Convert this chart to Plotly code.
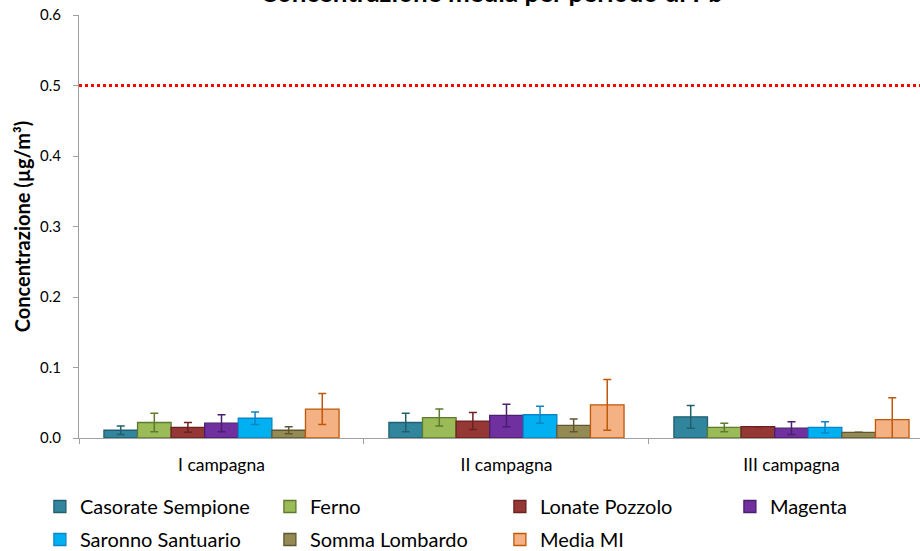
import plotly.graph_objects as go

categories = ["I campagna", "II campagna", "III campagna"]
series_names = ["Casorate Sempione", "Ferno", "Lonate Pozzolo", "Magenta",
                "Saronno Santuario", "Somma Lombardo", "Media MI"]
values = {
    "Casorate Sempione": [0.011, 0.022, 0.030],
    "Ferno":             [0.022, 0.029, 0.015],
    "Lonate Pozzolo":    [0.015, 0.024, 0.016],
    "Magenta":           [0.021, 0.032, 0.014],
    "Saronno Santuario": [0.028, 0.033, 0.015],
    "Somma Lombardo":    [0.011, 0.018, 0.008],
    "Media MI":          [0.041, 0.047, 0.026],
}
errors = {
    "Casorate Sempione": [0.006, 0.013, 0.016],
    "Ferno":             [0.013, 0.012, 0.006],
    "Lonate Pozzolo":    [0.007, 0.012, 0.0],
    "Magenta":           [0.012, 0.016, 0.009],
    "Saronno Santuario": [0.009, 0.012, 0.008],
    "Somma Lombardo":    [0.005, 0.009, 0.0],
    "Media MI":          [0.022, 0.036, 0.031],
}
limit_value = 0.5
y_ticks = [0.0, 0.1, 0.2, 0.3, 0.4, 0.5, 0.6]
y_tick_labels = ["0.0", "0.1", "0.2", "0.3", "0.4", "0.5", "0.6"]

fill_colors = ["#31859C", "#9BBB59", "#953735", "#7030A0", "#00B0F0", "#948A54", "#F4B183"]
edge_colors = ["#215F70", "#5E7A2C", "#6B2220", "#4A1F6E", "#0A86C8", "#5E5732", "#C0580A"]
legend_rows = ["legend", "legend", "legend", "legend", "legend2", "legend2", "legend2"]

FONT = "Lato"

fig = go.Figure()
for name, fc, ec, lg in zip(series_names, fill_colors, edge_colors, legend_rows):
    fig.add_trace(go.Bar(
        name=name, x=categories, y=values[name], legend=lg,
        marker=dict(color=fc, line=dict(color=ec, width=1.3)),
        error_y=dict(type="data", array=errors[name], visible=True,
                     color=ec, thickness=1.5, width=4),
    ))

fig.add_shape(type="line", xref="paper", x0=0, x1=1, yref="y",
              y0=limit_value, y1=limit_value,
              line=dict(color="#FF0000", width=3, dash="dot"))

fig.add_annotation(text="<b>Concentrazione media per periodo di Pb</b>",
                   xref="paper", yref="paper", x=0.4905, y=1.0, yshift=23,
                   xanchor="center", yanchor="middle", showarrow=False,
                   font=dict(family=FONT, size=26, color="#000000"))

legend_common = dict(orientation="h", x=-0.0465, xanchor="left", yanchor="top",
                     font=dict(family=FONT, size=20, color="#000000"),
                     entrywidth=185, entrywidthmode="pixels",
                     itemwidth=30, traceorder="normal", bgcolor="rgba(0,0,0,0)")

fig.update_layout(
    width=920, height=551,
    margin=dict(l=79, r=0, t=15, b=113, autoexpand=False),
    paper_bgcolor="white", plot_bgcolor="white",
    barmode="group", bargap=0.175, bargroupgap=0,
    font=dict(family=FONT, size=15, color="#000000"),
    showlegend=True,
    legend=dict(y=-0.1158, **legend_common),
    legend2=dict(y=-0.1939, **legend_common),
)
fig.update_xaxes(
    range=[-0.5, 2.451], showline=True, linecolor="#A0A0A0", linewidth=1,
    ticks="outside", ticklen=5, tickcolor="#A0A0A0", tickson="boundaries",
    showgrid=False, tickfont=dict(family=FONT, size=17.5), ticklabelstandoff=11,
)
fig.update_yaxes(
    range=[0, 0.6], tickvals=y_ticks, ticktext=y_tick_labels,
    showline=True, linecolor="#A0A0A0", linewidth=1,
    ticks="outside", ticklen=5, tickcolor="#A0A0A0", showgrid=False,
    zeroline=False, tickfont=dict(family=FONT, size=15), ticklabelstandoff=9,
    title=dict(text="<b>Concentrazione (µg/m³)</b>", standoff=4,
               font=dict(family=FONT, size=20)),
)

fig.write_html("out.html", config={"displayModeBar": False},
               post_script="document.body.style.margin='0';document.body.style.overflow='hidden';")
